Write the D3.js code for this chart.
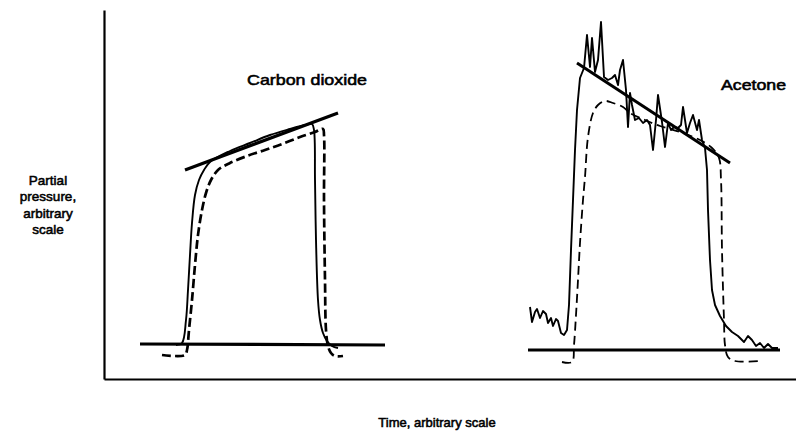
<!DOCTYPE html>
<html>
<head>
<meta charset="utf-8">
<script src="https://cdn.jsdelivr.net/npm/d3@7"></script>
<style>
  html, body { margin: 0; padding: 0; background: #fff; }
  text { font-family: "Liberation Sans", Arial, Helvetica, sans-serif; fill: #000; stroke: #000; stroke-width: 0.55; }
</style>
</head>
<body>
<svg width="796" height="434"></svg>
<script>
// time, partial pressure (both arbitrary units)
const co2Baseline = [[36, 35], [281, 34]];
const co2Fit = [[81, 209], [234, 266]];
const co2Solid = [
  [72, 34], [78, 36], [82, 59], [84, 89], [86, 124], [88, 156], [91, 184], [95, 199],
  [100, 209], [106, 217], [126, 228], [146, 236], [166, 244], [186, 250], [201, 254],
  [208, 255], [210, 249], [211, 199], [212, 139], [214, 79], [216, 59], [219, 46],
  [223, 38], [228, 33], [234, 31]
];
const co2Dashed = [
  [58, 24], [81, 24], [83, 29], [85, 49], [88, 79], [91, 114], [94, 144], [98, 169],
  [102, 186], [107, 199], [114, 209], [126, 216], [143, 223], [161, 229], [178, 235],
  [196, 242], [211, 247], [219, 250], [220, 244], [220, 179], [221, 99], [222, 49],
  [224, 33], [227, 26], [231, 23], [239, 23]
];

const acBaseline = [[424, 29], [676, 29]];
const acFit = [[473, 316], [626, 216]];
const acSolid = [
  [426, 72], [428, 57], [431, 67], [433, 70], [436, 61], [439, 68], [442, 65], [444, 56],
  [447, 61], [449, 53], [452, 60], [454, 58], [457, 46], [460, 44], [463, 49], [465, 74],
  [467, 129], [469, 179], [471, 229], [473, 269], [476, 301], [480, 311], [483, 344],
  [486, 312], [488, 341], [491, 307], [494, 319], [497, 357], [500, 302], [504, 299],
  [508, 301], [511, 304], [514, 294], [516, 309], [519, 319], [522, 289], [524, 252],
  [526, 286], [528, 274], [531, 259], [535, 261], [539, 256], [543, 259], [546, 254],
  [549, 229], [552, 259], [554, 284], [558, 257], [561, 232], [564, 256], [567, 249],
  [570, 252], [574, 251], [577, 254], [579, 272], [583, 246], [586, 256], [589, 264],
  [593, 249], [595, 259], [598, 239], [601, 231], [603, 209], [604, 169], [606, 119],
  [608, 89], [611, 74], [616, 63], [622, 53], [628, 47], [634, 43], [640, 37], [644, 43],
  [648, 39], [652, 33], [656, 36], [660, 31], [664, 35], [668, 31], [674, 31]
];
const acDashed = [
  [458, 17], [468, 17], [470, 34], [472, 64], [474, 99], [476, 136], [479, 179],
  [481, 202], [484, 242], [489, 266], [494, 274], [501, 278], [509, 276], [519, 272],
  [526, 266], [541, 259], [556, 253], [576, 247], [596, 239], [608, 231], [615, 221],
  [617, 199], [618, 129], [620, 59], [621, 34], [624, 22], [631, 18], [656, 18]
];

const yLabel = ["Partial", "pressure,", "arbitrary", "scale"];
const xLabel = "Time, arbitrary scale";

const svg = d3.select("svg");
const x = d3.scaleLinear().domain([0, 692]).range([104, 796]);
const y = d3.scaleLinear().domain([0, 369]).range([379, 10]);

const straight = d3.line().x(d => x(d[0])).y(d => y(d[1]));
const smooth = d3.line().x(d => x(d[0])).y(d => y(d[1])).curve(d3.curveCatmullRom.alpha(0.5));

const draw = (data, gen, width, dash) => svg.append("path")
  .datum(data)
  .attr("d", gen)
  .attr("fill", "none")
  .attr("stroke", "#000")
  .attr("stroke-width", width)
  .attr("stroke-linejoin", "round")
  .attr("stroke-dasharray", dash || null);

// axes, no ticks
svg.append("g")
  .attr("transform", `translate(${x(0)},0)`)
  .call(d3.axisLeft(y).ticks(0).tickSize(0))
  .call(g => g.select(".domain").attr("stroke-width", 2.2));
svg.append("g")
  .attr("transform", `translate(0,${y(0)})`)
  .call(d3.axisBottom(x).ticks(0).tickSize(0))
  .call(g => g.select(".domain").attr("stroke-width", 2.2));

// carbon dioxide
draw(co2Baseline, straight, 3.2);
draw(co2Fit, straight, 3.2);
draw(co2Dashed, smooth, 2.7, "9,4");
draw(co2Solid, smooth, 1.9);

// acetone
draw(acBaseline, straight, 3.2);
draw(acFit, straight, 3);
draw(acDashed, smooth, 1.8, "9,5");
draw(acSolid, straight, 1.9);

svg.append("text").attr("x", 247).attr("y", 85)
  .attr("font-size", 15).attr("textLength", 120).attr("lengthAdjust", "spacingAndGlyphs")
  .text("Carbon dioxide");
svg.append("text").attr("x", 721).attr("y", 90)
  .attr("font-size", 14).attr("textLength", 65).attr("lengthAdjust", "spacingAndGlyphs")
  .text("Acetone");

svg.append("g").selectAll("text")
  .data(yLabel)
  .join("text")
  .attr("x", 48)
  .attr("y", (d, i) => 185 + i * 16.3)
  .attr("text-anchor", "middle")
  .attr("font-size", 13.5)
  .text(d => d);

svg.append("text").attr("x", 437).attr("y", 427)
  .attr("text-anchor", "middle").attr("font-size", 13)
  .text(xLabel);
</script>
</body>
</html>
